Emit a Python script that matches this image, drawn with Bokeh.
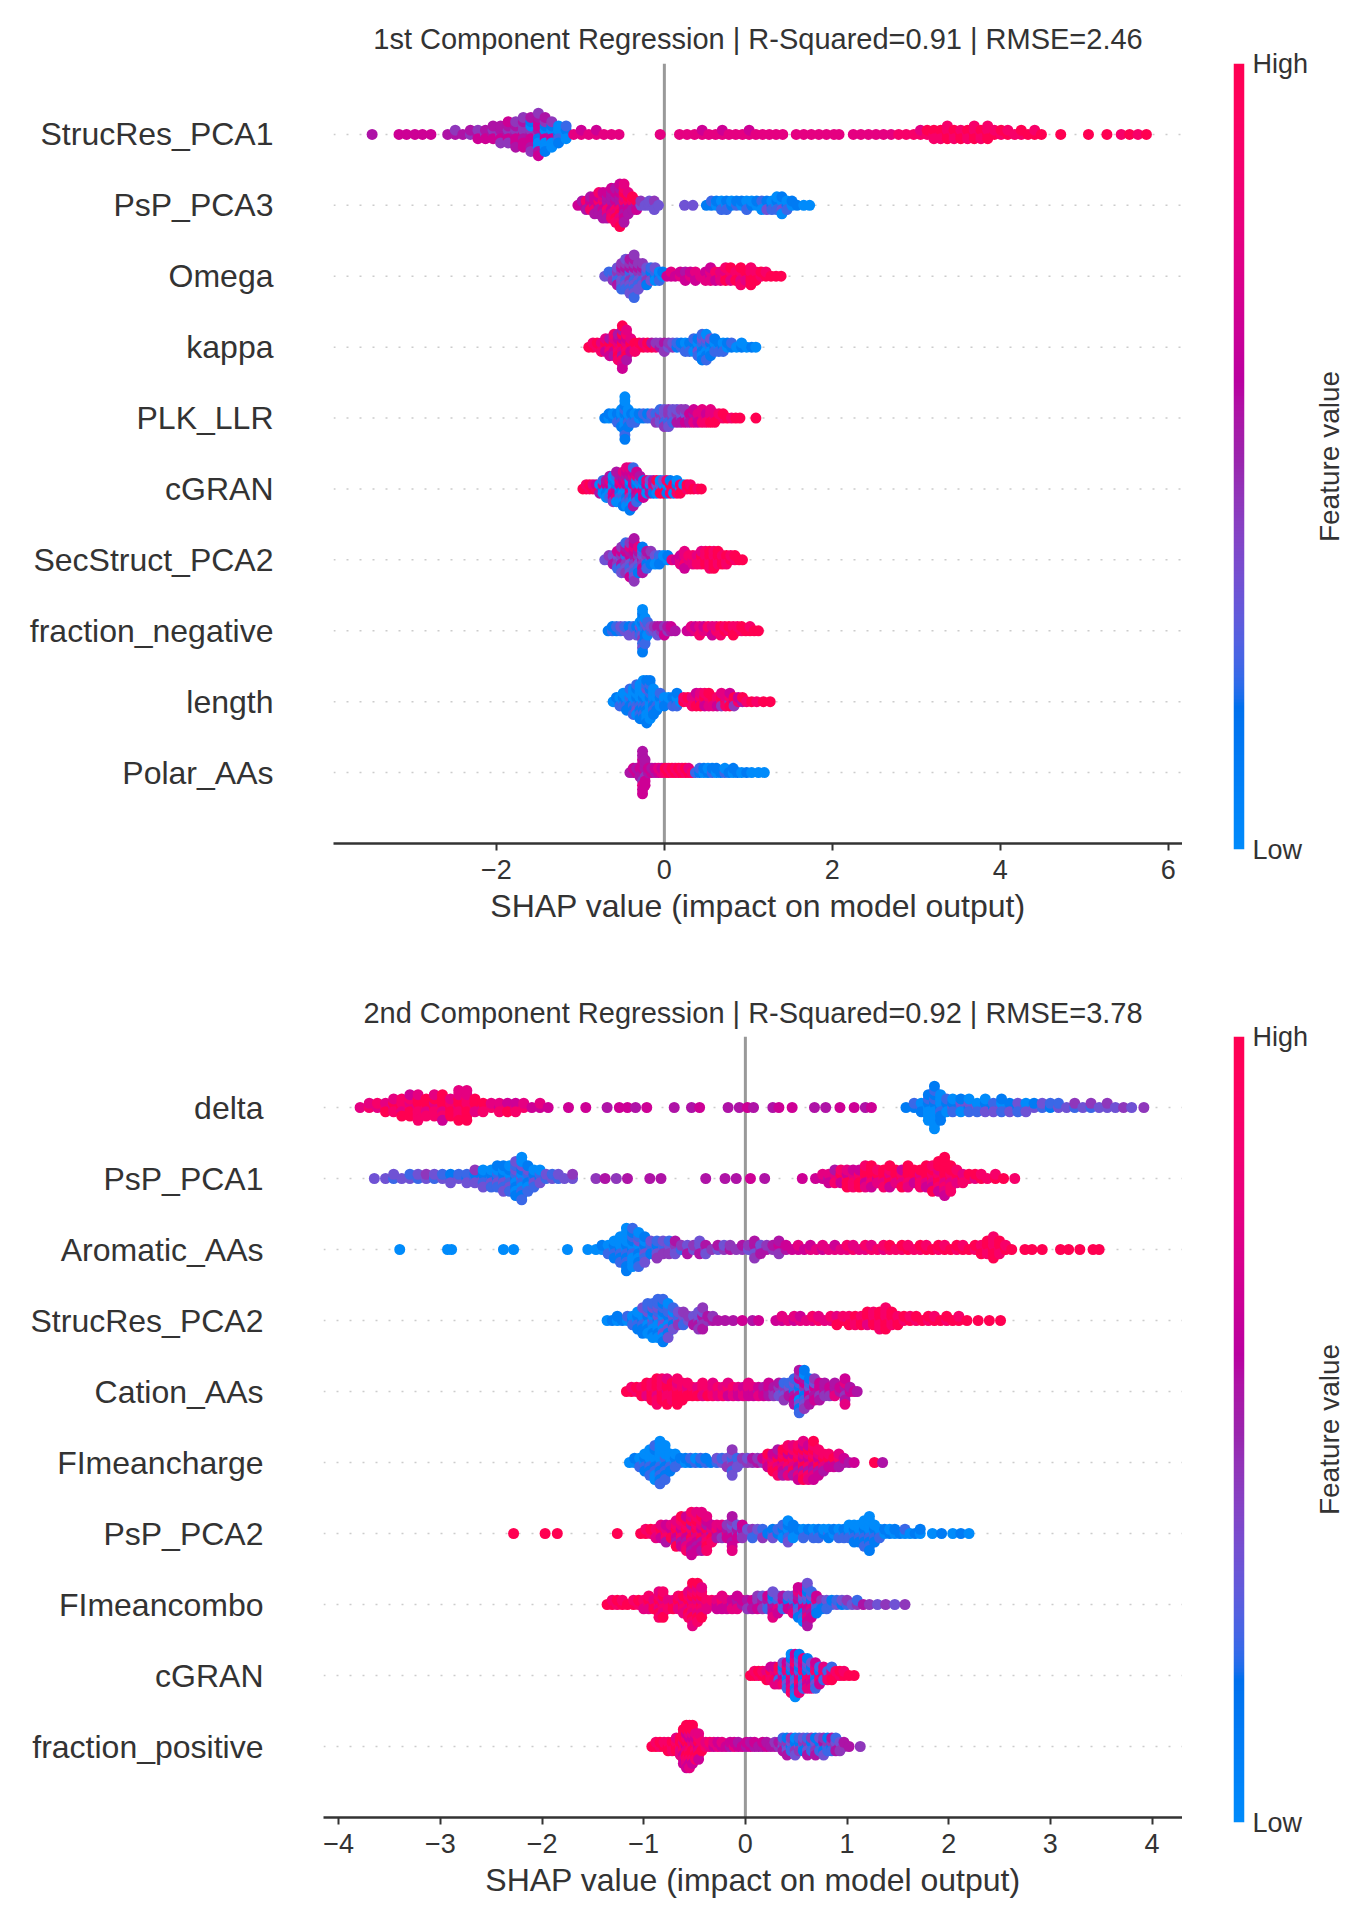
import math
import numpy as np
from bokeh.plotting import figure
from bokeh.models import ColumnDataSource, Range1d, FixedTicker, Span, LinearColorMapper
from bokeh.layouts import column, row
from bokeh.embed import file_html
from bokeh.resources import INLINE

FONT = "Liberation Sans"
TXT = "#333333"

# ---------------- data: (SHAP value, feature-value digits 0..9 for the points stacked there) ----------------
top_title = "1st Component Regression | R-Squared=0.91 | RMSE=2.46"
bottom_title = "2nd Component Regression | R-Squared=0.92 | RMSE=3.78"
x_label = "SHAP value (impact on model output)"
cbar_label = "Feature value"
cbar_ticks = ["Low", "High"]
top_ticks = [-2, 0, 2, 4, 6]
bottom_ticks = [-4, -3, -2, -1, 0, 1, 2, 3, 4]

top_features = ["StrucRes_PCA1", "PsP_PCA3", "Omega", "kappa", "PLK_LLR", "cGRAN",
                "SecStruct_PCA2", "fraction_negative", "length", "Polar_AAs"]
bottom_features = ["delta", "PsP_PCA1", "Aromatic_AAs", "StrucRes_PCA2", "Cation_AAs",
                   "FImeancharge", "PsP_PCA2", "FImeancombo", "cGRAN", "fraction_positive"]

top_StrucRes_PCA1 = [
    (-3.48, "5"), (-3.16, "6"), (-3.07, "6"), (-2.97, "6"), (-2.88, "6"), (-2.78, "6"),
    (-2.58, "5"), (-2.49, "54"), (-2.40, "5"), (-2.31, "45"), (-2.22, "546"), (-2.13, "456"),
    (-2.04, "5465"), (-1.95, "45654"), (-1.86, "546546"), (-1.77, "5465645"), (-1.68, "64546564"),
    (-1.59, "546061554"), (-1.50, "45160605546"), (-1.42, "506104051"), (-1.34, "5061040"),
    (-1.26, "10201"), (-1.17, "0102"), (-1.08, "7"), (-0.99, "76"), (-0.90, "7"), (-0.81, "76"),
    (-0.72, "7"), (-0.63, "7"), (-0.54, "7"), (-0.05, "7"),
    (0.18, "7"), (0.27, "7"), (0.36, "7"), (0.45, "76"), (0.53, "7"), (0.61, "7"), (0.69, "76"),
    (0.77, "7"), (0.85, "7"), (0.93, "7"), (1.01, "76"), (1.09, "7"), (1.17, "7"), (1.25, "7"),
    (1.33, "7"), (1.41, "7"), (1.57, "7"), (1.66, "7"), (1.75, "7"), (1.84, "7"), (1.93, "7"),
    (2.02, "7"), (2.08, "7"), (2.25, "7"), (2.34, "7"), (2.43, "7"), (2.52, "7"), (2.61, "7"),
    (2.70, "7"), (2.79, "8"), (2.88, "8"), (2.97, "8"), (3.05, "87"), (3.13, "89"), (3.21, "898"),
    (3.29, "898"), (3.37, "9898"), (3.45, "898"), (3.53, "989"), (3.61, "898"), (3.69, "9898"),
    (3.77, "898"), (3.85, "9898"), (3.93, "98"), (4.01, "89"), (4.09, "98"), (4.17, "8"),
    (4.25, "89"), (4.33, "9"), (4.41, "98"), (4.49, "9"), (4.72, "9"), (5.05, "9"), (5.27, "9"),
    (5.44, "8"), (5.54, "9"), (5.64, "8"), (5.74, "9")]
top_PsP_PCA3 = [
    (-1.03, "6"), (-0.98, "65"), (-0.93, "685"), (-0.88, "5685"), (-0.83, "56865"), (-0.78, "685658"),
    (-0.73, "5867565"), (-0.68, "6585765"), (-0.63, "85657586"), (-0.58, "568576958"),
    (-0.53, "65859675869"), (-0.48, "5867596857"), (-0.43, "586957"), (-0.38, "6859"), (-0.33, "596"),
    (-0.28, "34"), (-0.23, "3"), (-0.18, "33"), (-0.12, "343"), (-0.07, "3"), (0.24, "3"), (0.34, "3"),
    (0.50, "1"), (0.56, "12"), (0.62, "01"), (0.68, "102"), (0.74, "012"), (0.80, "10"), (0.86, "21"),
    (0.92, "01"), (0.98, "102"), (1.04, "10"), (1.10, "01"), (1.16, "120"), (1.22, "013"), (1.28, "102"),
    (1.34, "0120"), (1.40, "20310"), (1.46, "102"), (1.52, "01"), (1.58, "1"), (1.66, "0"), (1.73, "0")]
top_Omega = [
    (-0.71, "3"), (-0.66, "32"), (-0.61, "324"), (-0.56, "34235"), (-0.51, "2435342"), (-0.46, "34253423"),
    (-0.41, "324534253"), (-0.36, "43253425342"), (-0.31, "2435243"), (-0.26, "342534"), (-0.21, "32431"),
    (-0.16, "4132"), (-0.11, "1203"), (-0.06, "102"), (-0.02, "01"), (0.03, "6"), (0.08, "67"), (0.13, "6"),
    (0.19, "76"), (0.25, "656"), (0.31, "76"), (0.37, "676"), (0.43, "7"), (0.49, "767"), (0.55, "6776"),
    (0.61, "786"), (0.67, "877"), (0.73, "8798"), (0.79, "9879"), (0.85, "789"), (0.91, "98798"),
    (0.97, "897"), (1.03, "98989"), (1.09, "989"), (1.15, "89"), (1.21, "98"), (1.27, "9"), (1.33, "9"),
    (1.39, "9")]
top_kappa = [
    (-0.90, "9"), (-0.85, "98"), (-0.80, "89"), (-0.75, "978"), (-0.70, "8967"), (-0.65, "79856"),
    (-0.60, "896758"), (-0.55, "9786958"), (-0.50, "89765985796"), (-0.45, "97869857"), (-0.40, "8967"),
    (-0.35, "798"), (-0.30, "89"), (-0.25, "97"), (-0.20, "89"), (-0.15, "95"), (-0.10, "84"), (-0.05, "54"),
    (0.00, "454"), (0.05, "34"), (0.10, "43"), (0.15, "12"), (0.20, "21"), (0.25, "102"), (0.30, "012"),
    (0.35, "2102"), (0.40, "10312"), (0.45, "0213021"), (0.50, "1203102"), (0.55, "21031"), (0.60, "1021"),
    (0.65, "012"), (0.70, "102"), (0.75, "01"), (0.80, "12"), (0.86, "0"), (0.92, "10"), (0.98, "0"),
    (1.04, "1"), (1.09, "0")]
top_PLK_LLR = [
    (-0.71, "1"), (-0.66, "01"), (-0.61, "10"), (-0.56, "012"), (-0.51, "10201"), (-0.47, "01020110201"),
    (-0.43, "10201"), (-0.39, "012"), (-0.35, "102"), (-0.30, "01"), (-0.25, "12"), (-0.20, "21"),
    (-0.15, "23"), (-0.10, "324"), (-0.05, "3432"), (0.00, "43234"), (0.05, "34243"), (0.10, "4323"),
    (0.15, "3453"), (0.20, "4354"), (0.25, "5364"), (0.30, "465"), (0.35, "6576"), (0.40, "576"),
    (0.45, "6787"), (0.50, "768"), (0.55, "8797"), (0.60, "879"), (0.65, "98"), (0.70, "89"), (0.75, "9"),
    (0.80, "8"), (0.85, "9"), (0.90, "9"), (1.09, "9")]
top_cGRAN = [
    (-0.97, "9"), (-0.93, "98"), (-0.89, "89"), (-0.85, "97"), (-0.81, "86"), (-0.77, "905"), (-0.73, "1702"),
    (-0.69, "06150"), (-0.65, "160725"), (-0.61, "2071604"), (-0.57, "51607205"), (-0.53, "0617250"),
    (-0.49, "170625071"), (-0.45, "2607152607"), (-0.41, "61704526071"), (-0.37, "0625170652"),
    (-0.33, "71605726"), (-0.29, "607215"), (-0.25, "50716"), (-0.21, "1607"), (-0.17, "6053"),
    (-0.13, "4715"), (-0.09, "8309"), (-0.05, "1390"), (-0.01, "8093"), (0.03, "9018"), (0.07, "0981"),
    (0.11, "890"), (0.15, "9180"), (0.19, "089"), (0.23, "90"), (0.27, "89"), (0.31, "98"), (0.35, "9"),
    (0.40, "8"), (0.44, "9")]
top_SecStruct_PCA2 = [
    (-0.71, "3"), (-0.66, "34"), (-0.61, "435"), (-0.56, "53462"), (-0.51, "3456243"), (-0.46, "52463542"),
    (-0.41, "463527346"), (-0.36, "25463726354"), (-0.31, "6435271"), (-0.26, "5342615"), (-0.21, "34152"),
    (-0.16, "2514"), (-0.11, "130"), (-0.06, "021"), (-0.01, "10"), (0.04, "01"), (0.09, "7"), (0.14, "6"),
    (0.19, "767"), (0.24, "67876"), (0.29, "78"), (0.34, "787"), (0.39, "878"), (0.44, "8987"),
    (0.49, "9898"), (0.54, "89898"), (0.59, "98989"), (0.64, "8989"), (0.69, "989"), (0.74, "898"),
    (0.79, "98"), (0.84, "89"), (0.89, "9"), (0.93, "9")]
top_fraction_negative = [
    (-0.67, "1"), (-0.62, "21"), (-0.57, "12"), (-0.52, "23"), (-0.47, "32"), (-0.42, "213"), (-0.37, "32"),
    (-0.33, "213"), (-0.29, "1320"), (-0.26, "20314021301"), (-0.23, "0213102"), (-0.20, "1302"),
    (-0.16, "23"), (-0.12, "34"), (-0.08, "453"), (-0.04, "45"), (0.00, "546"), (0.04, "45"), (0.08, "56"),
    (0.13, "5"), (0.27, "6"), (0.32, "67"), (0.37, "76"), (0.42, "678"), (0.47, "76"), (0.52, "78"),
    (0.57, "876"), (0.62, "87"), (0.67, "898"), (0.72, "98"), (0.77, "89"), (0.82, "989"), (0.87, "98"),
    (0.92, "89"), (0.97, "9"), (1.02, "98"), (1.07, "9"), (1.12, "9")]
top_length = [
    (-0.61, "0"), (-0.57, "01"), (-0.53, "102"), (-0.49, "0120"), (-0.45, "10201"), (-0.41, "021012"),
    (-0.37, "1020102"), (-0.33, "01203102"), (-0.29, "102010201"), (-0.25, "0120102010"),
    (-0.21, "10201302011"), (-0.17, "0102010201"), (-0.13, "2010201"), (-0.09, "10201"), (-0.05, "0102"),
    (0.00, "201"), (0.05, "10"), (0.10, "012"), (0.15, "1021"), (0.19, "0"), (0.23, "98"), (0.28, "89"),
    (0.33, "978"), (0.38, "8796"), (0.43, "6897"), (0.48, "7968"), (0.53, "6879"), (0.58, "897"),
    (0.63, "786"), (0.68, "8947"), (0.73, "978"), (0.78, "4896"), (0.83, "694"), (0.88, "86"), (0.93, "59"),
    (0.98, "8"), (1.04, "9"), (1.10, "8"), (1.18, "9"), (1.26, "9")]
top_Polar_AAs = [
    (-0.41, "5"), (-0.37, "56"), (-0.33, "65"), (-0.29, "565"), (-0.26, "56564675656"), (-0.23, "6545656"),
    (-0.19, "56"), (-0.15, "65"), (-0.11, "56"), (-0.07, "67"), (-0.03, "76"), (0.01, "89"), (0.05, "98"),
    (0.09, "89"), (0.13, "98"), (0.17, "89"), (0.21, "98"), (0.25, "89"), (0.29, "97"), (0.33, "8"),
    (0.37, "2"), (0.42, "12"), (0.47, "01"), (0.52, "10"), (0.57, "21"), (0.62, "01"), (0.67, "1"),
    (0.72, "20"), (0.77, "1"), (0.82, "01"), (0.87, "1"), (0.92, "0"), (0.98, "1"), (1.04, "0"),
    (1.12, "0"), (1.19, "0")]

bot_delta = [
    (-3.79, "7"), (-3.70, "87"), (-3.62, "78"), (-3.54, "879"), (-3.46, "7987"), (-3.38, "98789"),
    (-3.30, "879896"), (-3.22, "7989878"), (-3.14, "89798"), (-3.06, "978987"), (-2.98, "8979896"),
    (-2.90, "98979"), (-2.82, "79898797"), (-2.74, "98989797"), (-2.66, "8979"), (-2.58, "798"),
    (-2.50, "87"), (-2.42, "678"), (-2.34, "869"), (-2.26, "768"), (-2.18, "87"), (-2.10, "6"),
    (-2.02, "67"), (-1.94, "6"), (-1.74, "6"), (-1.57, "6"), (-1.36, "5"), (-1.24, "6"), (-1.16, "6"),
    (-1.08, "5"), (-0.97, "6"), (-0.70, "5"), (-0.53, "5"), (-0.45, "6"), (-0.17, "5"), (-0.06, "5"),
    (0.02, "6"), (0.08, "5"), (0.27, "5"), (0.33, "6"), (0.46, "6"), (0.68, "5"), (0.79, "5"), (0.93, "6"),
    (1.07, "6"), (1.18, "5"), (1.24, "6"), (1.58, "1"), (1.66, "12"), (1.73, "201"), (1.80, "0102010"),
    (1.86, "01020102010"), (1.92, "1020101"), (1.98, "2102"), (2.04, "3120"), (2.12, "2301"),
    (2.20, "1320"), (2.28, "302"), (2.36, "2130"), (2.44, "123"), (2.52, "3021"), (2.60, "213"),
    (2.68, "132"), (2.76, "203"), (2.84, "31"), (2.92, "23"), (3.00, "12"), (3.08, "32"), (3.16, "3"),
    (3.24, "24"), (3.32, "3"), (3.40, "24"), (3.48, "3"), (3.56, "34"), (3.64, "3"), (3.72, "4"),
    (3.80, "3"), (3.92, "4")]
bot_PsP_PCA1 = [
    (-3.65, "3"), (-3.54, "3"), (-3.46, "23"), (-3.38, "3"), (-3.30, "32"), (-3.22, "23"), (-3.14, "34"),
    (-3.06, "23"), (-2.98, "32"), (-2.90, "213"), (-2.82, "32"), (-2.74, "123"), (-2.66, "2134"),
    (-2.58, "31203"), (-2.50, "21302"), (-2.44, "123021"), (-2.38, "2130213"), (-2.32, "3021302"),
    (-2.26, "120312031"), (-2.20, "30210320102"), (-2.14, "0213012"), (-2.08, "21302"), (-2.02, "1230"),
    (-1.96, "23"), (-1.90, "32"), (-1.84, "23"), (-1.78, "3"), (-1.70, "34"), (-1.47, "4"), (-1.38, "5"),
    (-1.27, "4"), (-1.16, "5"), (-0.94, "5"), (-0.83, "5"), (-0.39, "5"), (-0.20, "5"), (-0.09, "5"),
    (0.05, "6"), (0.19, "5"), (0.56, "6"), (0.69, "6"), (0.76, "67"), (0.82, "576"), (0.88, "6785"),
    (0.94, "7968"), (1.00, "86979"), (1.06, "97868"), (1.12, "78969"), (1.18, "896978"), (1.24, "798969"),
    (1.30, "6978"), (1.36, "89798"), (1.42, "979869"), (1.48, "8979"), (1.54, "98769"), (1.60, "798979"),
    (1.66, "8969"), (1.72, "97898"), (1.78, "897969"), (1.84, "9879689"), (1.90, "98978969"),
    (1.96, "8979897969"), (2.02, "9879898"), (2.08, "8978"), (2.14, "978"), (2.20, "89"), (2.26, "79"),
    (2.32, "98"), (2.38, "8"), (2.46, "98"), (2.54, "9"), (2.65, "8")]
bot_Aromatic_AAs = [
    (-3.40, "0"), (-2.93, "0"), (-2.89, "0"), (-2.38, "0"), (-2.28, "0"), (-1.75, "0"), (-1.55, "0"),
    (-1.47, "0"), (-1.41, "01"), (-1.35, "102"), (-1.29, "01201"), (-1.23, "1020102"), (-1.17, "01201020101"),
    (-1.11, "1021020102"), (-1.05, "201302102"), (-0.99, "2130213"), (-0.93, "3213"), (-0.87, "21324"),
    (-0.81, "3243"), (-0.75, "4342"), (-0.69, "3435"), (-0.63, "24"), (-0.57, "435"), (-0.51, "34"),
    (-0.45, "4353"), (-0.39, "453"), (-0.33, "4"), (-0.27, "35"), (-0.21, "43"), (-0.15, "54"), (-0.09, "4"),
    (-0.03, "45"), (0.03, "34"), (0.09, "45354"), (0.15, "435"), (0.21, "54"), (0.27, "45"), (0.33, "5645"),
    (0.40, "56"), (0.46, "6"), (0.52, "67"), (0.58, "6"), (0.64, "76"), (0.70, "7"), (0.76, "67"), (0.82, "7"),
    (0.88, "76"), (0.94, "7"), (1.00, "78"), (1.06, "87"), (1.12, "7"), (1.18, "78"), (1.24, "87"), (1.30, "8"),
    (1.36, "78"), (1.42, "89"), (1.48, "8"), (1.54, "89"), (1.60, "98"), (1.66, "8"), (1.72, "89"),
    (1.78, "98"), (1.84, "9"), (1.90, "89"), (1.96, "98"), (2.02, "9"), (2.08, "89"), (2.14, "98"),
    (2.20, "9"), (2.26, "89"), (2.32, "989"), (2.38, "8989"), (2.44, "989898"), (2.50, "8989"), (2.56, "98"),
    (2.62, "9"), (2.75, "9"), (2.82, "9"), (2.92, "9"), (3.10, "9"), (3.18, "9"), (3.29, "9"), (3.42, "9"),
    (3.48, "9")]
bot_StrucRes_PCA2 = [
    (-1.36, "0"), (-1.31, "1"), (-1.26, "01"), (-1.21, "1"), (-1.16, "02"), (-1.11, "102"), (-1.06, "01201"),
    (-1.01, "1020131"), (-0.96, "21031202"), (-0.91, "302103120"), (-0.86, "1302031202"),
    (-0.81, "20310231021"), (-0.76, "310232103"), (-0.71, "231032"), (-0.66, "3243"), (-0.61, "4324"),
    (-0.56, "34"), (-0.51, "435"), (-0.46, "43534"), (-0.42, "354354"), (-0.37, "45"), (-0.32, "54"),
    (-0.27, "5"), (-0.20, "5"), (-0.12, "5"), (-0.03, "6"), (0.07, "5"), (0.13, "6"), (0.30, "6"),
    (0.36, "67"), (0.42, "7"), (0.48, "67"), (0.54, "76"), (0.60, "7"), (0.66, "78"), (0.72, "87"),
    (0.78, "7"), (0.84, "78"), (0.90, "879"), (0.96, "98"), (1.02, "789"), (1.08, "898"), (1.14, "989"),
    (1.20, "8979"), (1.26, "9898"), (1.32, "89898"), (1.38, "989898"), (1.44, "8989"), (1.50, "989"),
    (1.56, "89"), (1.62, "98"), (1.68, "89"), (1.74, "9"), (1.80, "89"), (1.86, "98"), (1.92, "9"),
    (1.98, "89"), (2.04, "9"), (2.10, "98"), (2.18, "9"), (2.29, "9"), (2.40, "9"), (2.51, "9")]
bot_Cation_AAs = [
    (-1.17, "9"), (-1.12, "98"), (-1.07, "89"), (-1.02, "989"), (-0.97, "8979"), (-0.92, "98989"),
    (-0.87, "8979898"), (-0.82, "989898"), (-0.77, "7989879"), (-0.72, "89898"), (-0.67, "9897989"),
    (-0.62, "98989"), (-0.57, "8798"), (-0.52, "989"), (-0.47, "879"), (-0.42, "9878"), (-0.37, "789"),
    (-0.32, "8787"), (-0.27, "787"), (-0.22, "878"), (-0.17, "7867"), (-0.12, "787"), (-0.07, "676"),
    (-0.02, "767"), (0.03, "6767"), (0.08, "676"), (0.13, "567"), (0.18, "656"), (0.23, "5656"),
    (0.28, "454"), (0.33, "5435"), (0.38, "24324"), (0.43, "4352"), (0.48, "1253625"), (0.53, "31520634152"),
    (0.58, "0416253041"), (0.63, "5362415"), (0.68, "465364"), (0.73, "56465"), (0.78, "6545"),
    (0.83, "564"), (0.88, "6575"), (0.93, "56"), (0.98, "6547567"), (1.03, "65"), (1.07, "6"), (1.10, "5")]
bot_FImeancharge = [
    (-1.14, "0"), (-1.09, "01"), (-1.04, "102"), (-0.99, "01201"), (-0.94, "1020102"), (-0.89, "201021020"),
    (-0.84, "10201020102"), (-0.79, "021020102"), (-0.74, "10201"), (-0.69, "0120"), (-0.64, "21"),
    (-0.59, "01"), (-0.54, "12"), (-0.49, "20"), (-0.44, "12"), (-0.39, "21"), (-0.34, "1"), (-0.28, "23"),
    (-0.23, "32"), (-0.18, "234"), (-0.13, "3243243"), (-0.08, "423"), (-0.03, "34"), (0.02, "43"),
    (0.07, "45"), (0.12, "54"), (0.17, "46"), (0.22, "8769"), (0.27, "97869"), (0.32, "8976958"),
    (0.37, "6978695"), (0.42, "79865978"), (0.47, "98769857"), (0.52, "796859786"), (0.57, "8697598697"),
    (0.62, "968759867"), (0.67, "7968597869"), (0.72, "8697586"), (0.77, "69785"), (0.82, "7968"),
    (0.87, "596"), (0.92, "6857"), (0.97, "56"), (1.02, "5"), (1.07, "6"), (1.27, "9"), (1.35, "5")]
bot_PsP_PCA2 = [
    (-2.28, "9"), (-1.97, "9"), (-1.85, "9"), (-1.26, "9"), (-1.03, "9"), (-0.98, "98"), (-0.93, "89"),
    (-0.88, "987"), (-0.83, "8967"), (-0.78, "97865"), (-0.73, "8697"), (-0.68, "7968579"),
    (-0.63, "96875869"), (-0.58, "796859768"), (-0.53, "68957967586"), (-0.48, "5978695867"),
    (-0.43, "8697586957"), (-0.38, "697586978"), (-0.33, "57968"), (-0.28, "6857"), (-0.23, "5647"),
    (-0.18, "7564"), (-0.13, "546354657"), (-0.08, "4563"), (-0.03, "3546"), (0.02, "43"), (0.07, "342"),
    (0.12, "23"), (0.17, "324"), (0.22, "1"), (0.27, "213"), (0.32, "12"), (0.37, "2102"), (0.42, "102130"),
    (0.47, "2101"), (0.52, "01"), (0.57, "102"), (0.62, "21"), (0.67, "102"), (0.72, "012"), (0.77, "10"),
    (0.82, "201"), (0.87, "01"), (0.92, "102"), (0.97, "012"), (1.02, "1020"), (1.07, "01201"),
    (1.12, "10201"), (1.17, "0120102"), (1.22, "102010201"), (1.27, "01201"), (1.32, "102"), (1.37, "01"),
    (1.42, "10"), (1.47, "01"), (1.52, "1"), (1.57, "02"), (1.62, "0"), (1.67, "1"), (1.72, "01"),
    (1.84, "0"), (1.93, "1"), (2.04, "0"), (2.12, "1"), (2.20, "0")]
bot_FImeancombo = [
    (-1.36, "9"), (-1.31, "98"), (-1.26, "89"), (-1.21, "98"), (-1.16, "9"), (-1.10, "98"), (-1.05, "89"),
    (-1.00, "987"), (-0.95, "8978"), (-0.90, "979"), (-0.85, "8978978"), (-0.81, "9789789"), (-0.76, "878"),
    (-0.71, "979"), (-0.66, "8978"), (-0.61, "97897"), (-0.56, "8978978"), (-0.52, "97897897897"),
    (-0.47, "8789789789"), (-0.43, "97897897"), (-0.38, "787"), (-0.33, "78"), (-0.28, "676"),
    (-0.23, "7867"), (-0.18, "676"), (-0.13, "567"), (-0.08, "6576"), (-0.03, "56"), (0.02, "654"),
    (0.07, "465"), (0.12, "5464"), (0.17, "6543"), (0.22, "3526"), (0.27, "6251637"), (0.32, "52736"),
    (0.37, "3625"), (0.42, "5163"), (0.47, "62537"), (0.52, "16253716"), (0.57, "526317260"),
    (0.61, "72635172635"), (0.65, "6173526"), (0.70, "37261"), (0.75, "241"), (0.80, "132"), (0.85, "21"),
    (0.90, "32"), (0.95, "13"), (1.00, "24"), (1.05, "3"), (1.10, "42"), (1.16, "5"), (1.22, "4"),
    (1.30, "3"), (1.38, "4"), (1.47, "3"), (1.57, "4")]
bot_cGRAN = [
    (0.05, "9"), (0.09, "98"), (0.13, "89"), (0.17, "98"), (0.21, "879"), (0.25, "7986"), (0.29, "87967"),
    (0.33, "68297"), (0.37, "726183"), (0.41, "2718362"), (0.45, "8172637180"), (0.49, "17263817260"),
    (0.53, "6271836271"), (0.57, "28173627"), (0.61, "71826371"), (0.65, "8271637"), (0.69, "2817362"),
    (0.73, "71826"), (0.77, "6827"), (0.81, "728"), (0.85, "8792"), (0.89, "98"), (0.93, "89"), (0.97, "98"),
    (1.02, "9"), (1.07, "9")]
bot_fraction_positive = [
    (-0.92, "9"), (-0.88, "98"), (-0.84, "89"), (-0.80, "98"), (-0.76, "989"), (-0.72, "898"), (-0.68, "9897"),
    (-0.64, "89797"), (-0.61, "978969796"), (-0.58, "69789689796"), (-0.55, "79869789697"),
    (-0.52, "8796978969"), (-0.49, "9786978"), (-0.46, "6978976"), (-0.43, "789"), (-0.39, "87"),
    (-0.35, "78"), (-0.31, "67"), (-0.27, "76"), (-0.23, "67"), (-0.19, "6"), (-0.15, "56"), (-0.11, "76"),
    (-0.07, "65"), (-0.03, "6"), (0.01, "56"), (0.05, "65"), (0.09, "56"), (0.13, "5"), (0.17, "56"),
    (0.21, "65"), (0.25, "5"), (0.29, "54"), (0.33, "45"), (0.37, "3452"), (0.41, "24315"), (0.45, "1324"),
    (0.49, "21403"), (0.53, "3142"), (0.57, "2413"), (0.61, "14325"), (0.65, "3124"), (0.69, "23415"),
    (0.73, "4123"), (0.77, "25143"), (0.81, "3421"), (0.85, "1425"), (0.89, "4352"), (0.93, "534"),
    (0.97, "45"), (1.02, "5"), (1.13, "4")]

top_rows = [top_StrucRes_PCA1, top_PsP_PCA3, top_Omega, top_kappa, top_PLK_LLR, top_cGRAN,
            top_SecStruct_PCA2, top_fraction_negative, top_length, top_Polar_AAs]
bottom_rows = [bot_delta, bot_PsP_PCA1, bot_Aromatic_AAs, bot_StrucRes_PCA2, bot_Cation_AAs,
               bot_FImeancharge, bot_PsP_PCA2, bot_FImeancombo, bot_cGRAN, bot_fraction_positive]


# ---------------- SHAP "red_blue" colormap (LCH interpolation) ----------------
def lab2rgb(L, a, b):
    fy = (L + 16.0) / 116.0
    fx = fy + a / 500.0
    fz = max(fy - b / 200.0, 0.0)
    def finv(t):
        return t ** 3 if t > 0.2068966 else (t - 16.0 / 116.0) / 7.787
    X, Y, Z = 0.95047 * finv(fx), 1.0 * finv(fy), 1.08883 * finv(fz)
    m = np.linalg.inv(np.array([[0.412453, 0.357580, 0.180423],
                                [0.212671, 0.715160, 0.072169],
                                [0.019334, 0.119193, 0.950227]]))
    rgb = m @ np.array([X, Y, Z])
    out = []
    for c in rgb:
        c = 1.055 * c ** (1 / 2.4) - 0.055 if c > 0.0031308 else 12.92 * c
        out.append(min(1.0, max(0.0, c)))
    return out


def red_blue_palette(n=256):
    blue_lch = [54.0, 70.0, 4.6588]
    l_mid = 40.0
    red_lch = [54.0, 90.0, 0.35470565 + 2 * np.pi]
    steps = 100
    ls = list(np.linspace(blue_lch[0], l_mid, steps // 2)) + list(np.linspace(l_mid, red_lch[0], steps // 2))
    cs = np.linspace(blue_lch[1], red_lch[1], steps)
    hs = np.linspace(blue_lch[2], red_lch[2], steps)
    base = np.array([lab2rgb(l, c * np.cos(h), c * np.sin(h)) for l, c, h in zip(ls, cs, hs)])
    pos = np.linspace(0, 1, steps)
    t = np.linspace(0, 1, n)
    pal = []
    for v in t:
        r, g, b = (np.interp(v, pos, base[:, k]) for k in range(3))
        pal.append("#%02x%02x%02x" % (int(round(r * 255)), int(round(g * 255)), int(round(b * 255))))
    return pal


PALETTE = red_blue_palette()


def colour(v):
    return PALETTE[int(round(v * (len(PALETTE) - 1)))]


def swarm(pairs, row_height=0.4):
    xs, ys, cs = [], [], []
    stacks = []
    for x, digits in pairs:
        layers = [math.ceil(k / 2) * ((k % 2) * 2 - 1) for k in range(len(digits))]
        stacks.append((x, digits, layers))
    top = max(max(abs(l) for l in layers) for _, _, layers in stacks)
    scale = 0.9 * row_height / (top + 1)
    for x, digits, layers in stacks:
        for d, l in zip(digits, layers):
            xs.append(x)
            ys.append(l * scale)
            cs.append(colour(int(d) / 9.0))
    return xs, ys, cs


def make_panel(title, features, rows, ticks, xr, left, frame_w, frame_h, top, bottom, standoff):
    n = len(features)
    p = figure(x_range=Range1d(*xr), y_range=Range1d(-1, n), frame_width=frame_w, frame_height=frame_h,
               min_border_left=left, min_border_right=0, min_border_top=top, min_border_bottom=bottom,
               toolbar_location=None, output_backend="svg", title=title)
    p.outline_line_color = None
    p.grid.visible = False
    p.background_fill_color = "white"
    p.border_fill_color = "white"

    p.title.text_font = FONT
    p.title.text_font_size = "29px"
    p.title.text_font_style = "normal"
    p.title.text_color = TXT
    p.title.align = "center"
    p.title.standoff = standoff

    for i in range(n):
        p.add_layout(Span(location=n - 1 - i, dimension="width", line_color="#cccccc",
                          line_width=1.5, line_dash="2 11", level="underlay"))
    p.add_layout(Span(location=0, dimension="height", line_color="#999999", line_width=3, level="underlay"))

    X, Y, C = [], [], []
    for i, pairs in enumerate(rows):
        xs, ys, cs = swarm(pairs)
        X += xs
        Y += [n - 1 - i + y for y in ys]
        C += cs
    src = ColumnDataSource(dict(x=X, y=Y, c=C))
    p.scatter("x", "y", source=src, size=11, fill_color="c", line_color=None)

    xa = p.xaxis[0]
    xa.ticker = FixedTicker(ticks=ticks)
    xa.major_label_overrides = {t: str(t).replace("-", "\u2212") for t in ticks}
    xa.axis_line_color = TXT
    xa.axis_line_width = 2.5
    xa.major_tick_line_color = TXT
    xa.major_tick_line_width = 2
    xa.major_tick_in = 0
    xa.major_tick_out = 7
    xa.minor_tick_line_color = None
    xa.major_label_standoff = 9
    xa.major_label_text_font = FONT
    xa.major_label_text_font_size = "27px"
    xa.major_label_text_color = TXT
    xa.axis_label = x_label
    xa.axis_label_text_font = FONT
    xa.axis_label_text_font_size = "32px"
    xa.axis_label_text_font_style = "normal"
    xa.axis_label_text_color = TXT
    xa.axis_label_standoff = 6

    ya = p.yaxis[0]
    ya.ticker = FixedTicker(ticks=list(range(n)))
    ya.major_label_overrides = {n - 1 - i: f for i, f in enumerate(features)}
    ya.axis_line_color = None
    ya.major_tick_line_color = None
    ya.minor_tick_line_color = None
    ya.major_tick_out = 0
    ya.major_tick_in = 0
    ya.major_label_standoff = 60
    ya.major_label_text_font = FONT
    ya.major_label_text_font_size = "32px"
    ya.major_label_text_color = TXT
    return p


def make_cbar(fig_h, top, bar_h):
    c = figure(x_range=Range1d(0, 1), y_range=Range1d(0, 1), frame_width=11, frame_height=bar_h,
               min_border_left=51, min_border_right=63, min_border_top=top,
               min_border_bottom=fig_h - top - bar_h, toolbar_location=None, output_backend="svg",
               x_axis_location=None, y_axis_location="right")
    c.outline_line_color = None
    c.grid.visible = False
    grad = np.linspace(0, 1, 256).reshape(256, 1)
    mapper = LinearColorMapper(palette=PALETTE, low=0, high=1)
    c.image(image=[grad], x=0, y=0, dw=1, dh=1, color_mapper=mapper)
    ya = c.yaxis[0]
    ya.ticker = FixedTicker(ticks=[0, 1])
    ya.major_label_overrides = {0: cbar_ticks[0], 1: cbar_ticks[1]}
    ya.axis_line_color = None
    ya.major_tick_line_color = None
    ya.minor_tick_line_color = None
    ya.major_tick_out = 0
    ya.major_tick_in = 0
    ya.major_label_standoff = 8
    ya.major_label_text_font = FONT
    ya.major_label_text_font_size = "27px"
    ya.major_label_text_color = TXT

    # side label of the colour bar: a left-located title reads bottom-to-top, centred on the bar
    t = figure(x_range=Range1d(0, 1), y_range=Range1d(0, 1), frame_width=1, frame_height=bar_h,
               min_border_left=0, min_border_right=0, min_border_top=top,
               min_border_bottom=fig_h - top - bar_h, toolbar_location=None, output_backend="svg",
               x_axis_location=None, y_axis_location=None, title=cbar_label, title_location="left")
    t.outline_line_color = None
    t.grid.visible = False
    t.title.text_font = FONT
    t.title.text_font_size = "28px"
    t.title.text_font_style = "normal"
    t.title.text_color = TXT
    t.title.align = "center"
    t.title.standoff = 0
    return c, t


p1 = make_panel(top_title, top_features, top_rows, top_ticks, (-3.94, 6.17), 333, 849, 780, 63, 108, 17)
c1, t1 = make_cbar(951, 62, 786)
p2 = make_panel(bottom_title, bottom_features, bottom_rows, bottom_ticks, (-4.15, 4.30), 323, 859, 781, 84, 88, 16)
c2, t2 = make_cbar(953, 85, 786)

layout = column(row(p1, c1, t1), row(p2, c2, t2))
open("out.html", "w").write(file_html(layout, INLINE))
